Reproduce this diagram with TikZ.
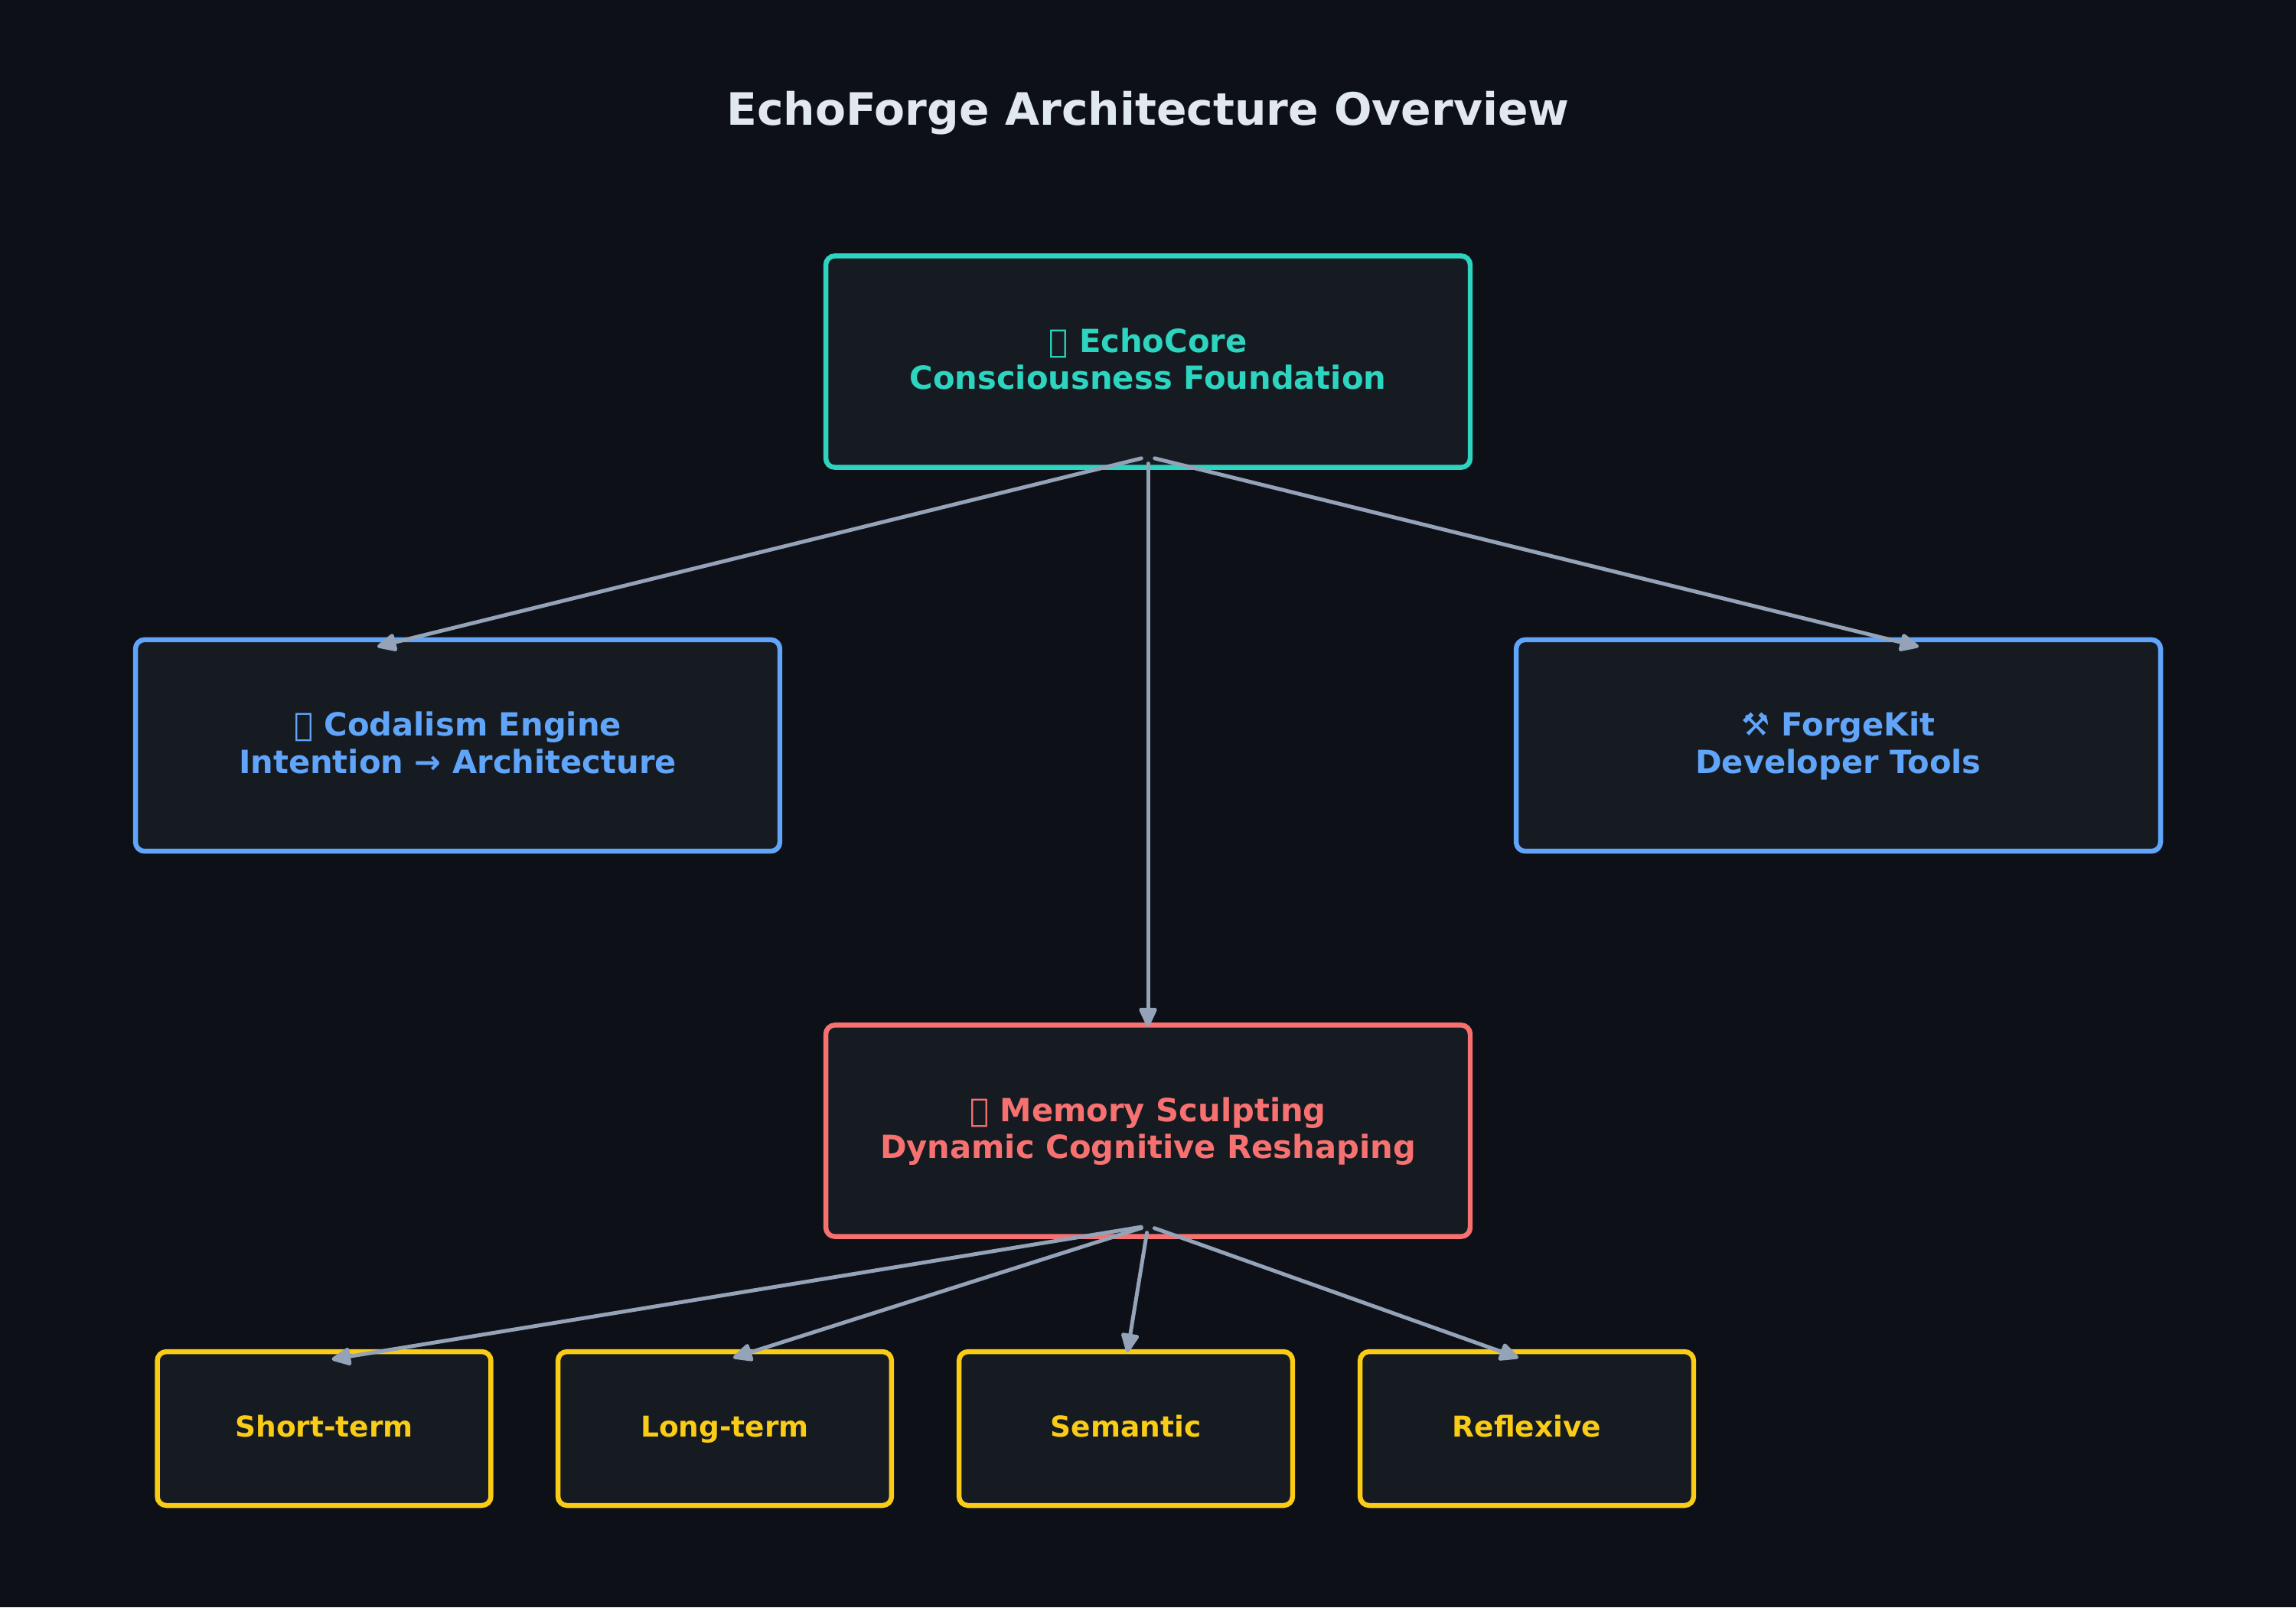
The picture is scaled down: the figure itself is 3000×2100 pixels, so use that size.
\documentclass[tikz,border=0pt]{standalone}
\usepackage{fontspec}
\setmainfont{DejaVu Sans}[BoldFont={DejaVu Sans Bold}]
\usetikzlibrary{arrows.meta}
\definecolor{bgc}{HTML}{0D1117}
\definecolor{boxfill}{HTML}{161B22}
\definecolor{teal}{HTML}{2DD4BF}
\definecolor{bluec}{HTML}{60A5FA}
\definecolor{redc}{HTML}{F87171}
\definecolor{yellowc}{HTML}{FACC15}
\definecolor{arrowc}{HTML}{94A3B8}
\definecolor{titlec}{HTML}{E2E8F0}
\newcommand{\tofu}{\XeTeXglyph 0\ }
\newcommand{\ls}{\rule[-0.25em]{0pt}{1.08em}}
\tikzset{
  x=0.0084667cm, y=-0.0084667cm,
  basebox/.style={draw, fill=boxfill, line width=1.55bp, rounded corners=0.1cm, outer sep=0pt, inner sep=0pt, align=center},
  bigbox/.style={basebox, minimum width=7.13cm, minimum height=2.34cm, font=\fontsize{10bp}{11.7bp}\selectfont\bfseries},
  smallbox/.style={basebox, draw=yellowc, text=yellowc, minimum width=3.6914cm, minimum height=1.7018cm, font=\fontsize{9bp}{11bp}\selectfont\bfseries},
  conn/.style={draw=arrowc, line width=1.2bp, line cap=round, shorten <=0.0762cm,
    -{Triangle[length=0.24cm,width=0.21cm,round]}},
  titletext/.style={text=titlec, font=\fontsize{14bp}{17bp}\selectfont\bfseries}
}
\begin{document}
\begin{tikzpicture}
\useasboundingbox (0,0) rectangle (3000,2100);
\fill[bgc] (0,0) rectangle (3000,2100);
\node[titletext] (title) at (1500,148) {EchoForge Architecture Overview};
\node[bigbox, draw=teal, text=teal] (core) at (1500,472.5) {\ls\tofu EchoCore\\\ls Consciousness Foundation};
\node[bigbox, draw=bluec, text=bluec] (cod) at (598,974) {\ls\tofu Codalism Engine\\\ls Intention → Architecture};
\node[bigbox, draw=bluec, text=bluec] (forge) at (2402,974) {\ls ⚒ ForgeKit\\\ls Developer Tools};
\node[bigbox, draw=redc, text=redc] (mem) at (1500,1477.5) {\ls\tofu Memory Sculpting\\\ls Dynamic Cognitive Reshaping};
\node[smallbox] (st) at (423.5,1866.5) {\ls Short-term};
\node[smallbox] (lt) at (947,1866.5) {\ls Long-term};
\node[smallbox] (se) at (1471,1866.5) {\ls Semantic};
\node[smallbox] (re) at (1995,1866.5) {\ls Reflexive};
\coordinate (coreout) at ([shift={(0,-14)}]core.south);
\coordinate (memout) at ([shift={(0,-14)}]mem.south);
\coordinate (codin) at ([shift={(-105,9)}]cod.north);
\coordinate (forgein) at ([shift={(105,9)}]forge.north);
\coordinate (memin) at ([shift={(0,2)}]mem.north);
\coordinate (stin) at ([shift={(10,10)}]st.north);
\coordinate (ltin) at ([shift={(11,8)}]lt.north);
\coordinate (sein) at ([shift={(2,1)}]se.north);
\coordinate (rein) at ([shift={(-11,8)}]re.north);
\draw[conn] (coreout) -- (codin);
\draw[conn] (coreout) -- (memin);
\draw[conn] (coreout) -- (forgein);
\draw[conn] (memout) -- (stin);
\draw[conn] (memout) -- (ltin);
\draw[conn] (memout) -- (sein);
\draw[conn] (memout) -- (rein);
\end{tikzpicture}
\end{document}
